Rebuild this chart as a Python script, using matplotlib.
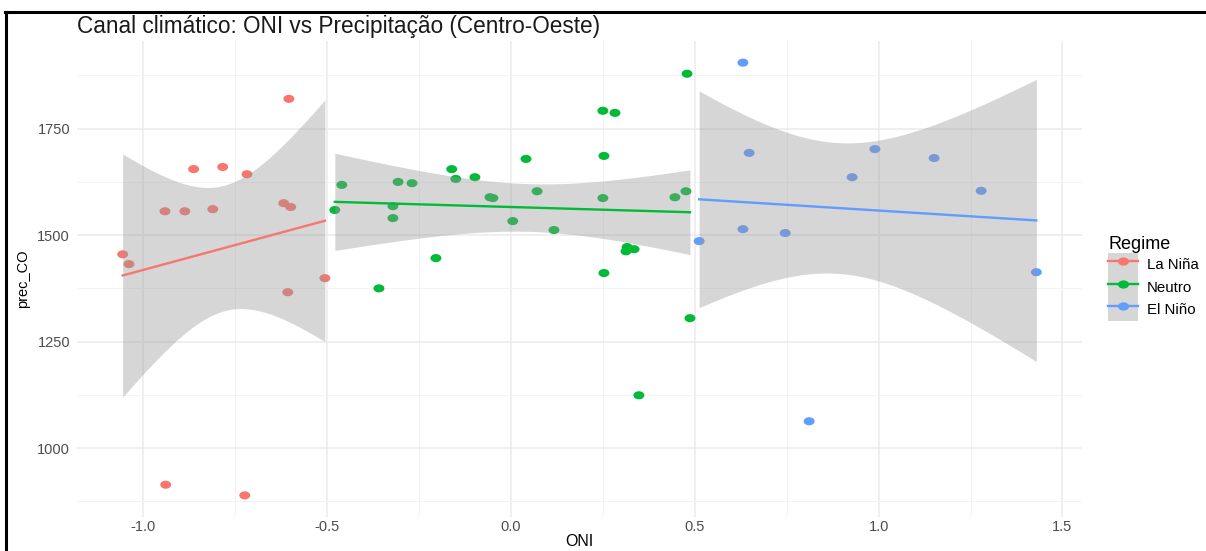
import numpy as np
import matplotlib
matplotlib.use('Agg')
import matplotlib.pyplot as plt
from matplotlib.lines import Line2D
from matplotlib.patches import Patch
from matplotlib.path import Path
from matplotlib.transforms import Affine2D
from matplotlib.ticker import MultipleLocator

plt.rcParams['font.family'] = ['Liberation Sans', 'DejaVu Sans']

regimes = ['La Niña', 'Neutro', 'El Niño']
colors = ['#F8766D', '#00BA38', '#619CFF']

oni_lanina = [-1.056, -1.039, -0.941, -0.887, -0.863, -0.811, -0.784, -0.718,
              -0.604, -0.618, -0.599, -0.506, -0.607, -0.939, -0.724]
prec_lanina = [1455, 1432, 1556, 1556, 1655, 1561, 1660, 1643,
               1820, 1575, 1566, 1399, 1366, 914, 889]

oni_neutro = [-0.479, -0.460, -0.359, -0.321, -0.321, -0.307, -0.269, -0.204,
              -0.161, -0.150, -0.098, -0.057, -0.049, 0.005, 0.041, 0.071,
              0.117, 0.250, 0.283, 0.253, 0.250, 0.253, 0.316, 0.313,
              0.335, 0.446, 0.476, 0.479, 0.487, 0.348]
prec_neutro = [1559, 1618, 1375, 1568, 1540, 1625, 1622, 1446,
               1655, 1632, 1636, 1589, 1587, 1533, 1679, 1603,
               1512, 1792, 1787, 1686, 1587, 1411, 1472, 1462,
               1467, 1589, 1603, 1879, 1305, 1124]

oni_elnino = [0.631, 0.648, 0.512, 0.631, 0.746, 0.928, 0.990, 1.151,
              1.279, 1.429, 0.811]
prec_elnino = [1905, 1693, 1486, 1514, 1505, 1636, 1702, 1681,
               1604, 1413, 1063]

groups = [(oni_lanina, prec_lanina), (oni_neutro, prec_neutro), (oni_elnino, prec_elnino)]

# the screenshot is a bit stretched sideways, so the dots are slightly oval
oval = Affine2D().scale(1.35, 1.0).transform_path(Path.unit_circle())


def t975(df):
    # Cornish-Fisher expansion for the 97.5% t quantile
    z = 1.959964
    g1 = (z**3 + z) / 4
    g2 = (5*z**5 + 16*z**3 + 3*z) / 96
    g3 = (3*z**7 + 19*z**5 + 17*z**3 - 15*z) / 384
    g4 = (79*z**9 + 776*z**7 + 1482*z**5 - 1920*z**3 - 945*z) / 92160
    return z + g1/df + g2/df**2 + g3/df**3 + g4/df**4


fig = plt.figure(figsize=(12.06, 5.51), dpi=100)
ax = fig.add_axes([77/1206, 1 - 517/551, (1082 - 77)/1206, (517 - 41)/551])

for (x, y), c in zip(groups, colors):
    x = np.array(x, float)
    y = np.array(y, float)
    ax.scatter(x, y, s=62, marker=oval, color=c, edgecolors='none', zorder=3)
    b, a = np.polyfit(x, y, 1)
    n = len(x)
    resid = y - (a + b*x)
    s = np.sqrt(np.sum(resid**2) / (n - 2))
    sxx = np.sum((x - x.mean())**2)
    xs = np.linspace(x.min(), x.max(), 80)
    ys = a + b*xs
    se = s * np.sqrt(1/n + (xs - x.mean())**2 / sxx)
    tq = t975(n - 2)
    ax.fill_between(xs, ys - tq*se, ys + tq*se, color='#999999', alpha=0.4,
                    linewidth=0, zorder=4)
    ax.plot(xs, ys, color=c, lw=1.7, zorder=5)

ax.margins(x=0.05, y=0.05)
ax.xaxis.set_minor_locator(MultipleLocator(0.25))
ax.yaxis.set_major_locator(MultipleLocator(250))
ax.yaxis.set_minor_locator(MultipleLocator(125))
ax.set_xticks([-1.0, -0.5, 0.0, 0.5, 1.0, 1.5])
ax.set_xticklabels(['-1.0', '-0.5', '0.0', '0.5', '1.0', '1.5'])
ax.grid(which='major', color='#EBEBEB', lw=1.1, zorder=0)
ax.grid(which='minor', color='#F3F3F3', lw=0.7, zorder=0)
ax.set_axisbelow(True)
for sp in ax.spines.values():
    sp.set_visible(False)
ax.tick_params(which='both', length=0, labelsize=10.5, labelcolor='#4D4D4D')
ax.tick_params(axis='x', pad=2)
ax.tick_params(axis='y', pad=5)
ax.set_xlabel('ONI', fontsize=11.5, labelpad=0)
ax.set_ylabel('prec_CO', fontsize=10.5, labelpad=5)
ax.set_title('Canal climático: ONI vs Precipitação (Centro-Oeste)', fontsize=16.3,
             loc='left', pad=6, color='#1A1A1A')

handles = []
for c in colors:
    handles.append((Patch(facecolor='#D6D6D6', edgecolor='none'),
                    Line2D([], [], color=c, lw=1.7, marker=oval, markersize=8,
                           markeredgecolor='none')))
leg = fig.legend(handles, regimes, title='Regime', loc='upper left',
                 bbox_to_anchor=(1108/1206, 1 - 236/551), frameon=False,
                 borderpad=0, borderaxespad=0,
                 fontsize=10.8, title_fontsize=13, handlelength=2.0,
                 handleheight=1.95, labelspacing=0.0, handletextpad=0.6)
leg._legend_box.align = 'left'

# screenshot frame (top and left edges)
fig.add_artist(Line2D([5/1206, 1], [1 - 11.5/551, 1 - 11.5/551],
                      transform=fig.transFigure, color='black', lw=2.2))
fig.add_artist(Line2D([6/1206, 6/1206], [0, 1 - 11.5/551],
                      transform=fig.transFigure, color='black', lw=2.2))

fig.savefig('out.png', dpi=100, facecolor='white')
